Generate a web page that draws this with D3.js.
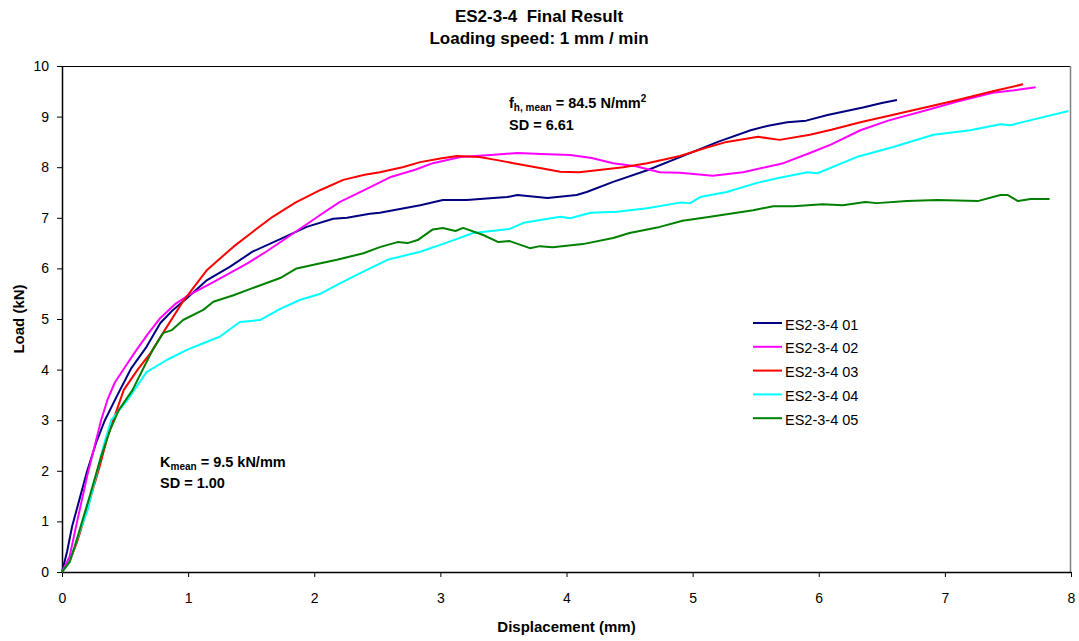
<!DOCTYPE html>
<html>
<head>
<meta charset="utf-8">
<script src="https://cdn.jsdelivr.net/npm/d3@7"></script>
<style>
  html, body { margin: 0; padding: 0; background: #fff; }
  svg { display: block; font-family: "Liberation Sans", Arial, sans-serif; }
</style>
</head>
<body>
<svg id="chart" width="1079" height="641"></svg>
<script>
// Load–displacement curves for the five ES2-3-4 specimens: [displacement (mm), load (kN)]
const s01 = [[0,0],[0.04,0.4],[0.08,0.9],[0.14,1.45],[0.2,2.0],[0.27,2.55],[0.34,3.0],[0.44,3.5],[0.55,4.03],[0.67,4.45],[0.78,4.92],[0.88,5.18],[0.99,5.41],[1.15,5.77],[1.33,6.03],[1.51,6.33],[1.73,6.58],[1.94,6.82],[2.15,6.98],[2.26,7.0],[2.44,7.08],[2.52,7.1],[2.84,7.25],[3.02,7.35],[3.21,7.35],[3.42,7.39],[3.53,7.41],[3.61,7.45],[3.85,7.39],[4.08,7.45],[4.16,7.51],[4.37,7.71],[4.64,7.94],[4.9,8.2],[5.2,8.5],[5.46,8.73],[5.6,8.82],[5.75,8.89],[5.9,8.92],[6.07,9.03],[6.35,9.18],[6.5,9.27],[6.62,9.33]];
const s02 = [[0,0],[0.06,0.3],[0.12,1.0],[0.2,1.9],[0.26,2.5],[0.31,3.0],[0.36,3.4],[0.42,3.75],[0.5,4.05],[0.58,4.35],[0.68,4.7],[0.78,5.02],[0.9,5.3],[0.99,5.45],[1.2,5.73],[1.47,6.1],[1.6,6.3],[1.78,6.6],[2.05,7.06],[2.2,7.31],[2.4,7.55],[2.6,7.8],[2.8,7.95],[2.94,8.08],[3.16,8.2],[3.4,8.24],[3.61,8.28],[3.8,8.26],[4.03,8.24],[4.2,8.18],[4.37,8.08],[4.55,8.02],[4.74,7.9],[4.9,7.89],[5.16,7.83],[5.4,7.9],[5.72,8.08],[5.95,8.3],[6.1,8.45],[6.33,8.73],[6.55,8.92],[6.86,9.13],[7.1,9.3],[7.38,9.47],[7.55,9.52],[7.72,9.58]];
const s03 = [[0,0],[0.06,0.2],[0.12,0.6],[0.17,1.0],[0.22,1.42],[0.3,2.1],[0.36,2.67],[0.42,3.1],[0.49,3.6],[0.6,4.0],[0.7,4.32],[0.82,4.8],[0.96,5.35],[1.15,5.97],[1.36,6.43],[1.5,6.7],[1.67,7.02],[1.85,7.3],[2.05,7.55],[2.23,7.75],[2.4,7.85],[2.52,7.9],[2.7,8.0],[2.84,8.1],[3.0,8.17],[3.13,8.22],[3.31,8.2],[3.45,8.14],[3.58,8.08],[3.8,7.98],[3.95,7.91],[4.1,7.9],[4.24,7.94],[4.45,8.0],[4.64,8.08],[4.9,8.22],[5.1,8.38],[5.27,8.5],[5.52,8.6],[5.69,8.54],[5.93,8.64],[6.1,8.74],[6.33,8.89],[6.6,9.04],[6.86,9.19],[7.1,9.33],[7.38,9.5],[7.62,9.64]];
const s04 = [[0,0],[0.06,0.2],[0.14,0.8],[0.2,1.2],[0.28,2.0],[0.33,2.5],[0.39,3.0],[0.52,3.4],[0.67,3.95],[0.83,4.19],[0.99,4.39],[1.1,4.5],[1.25,4.65],[1.41,4.94],[1.57,4.98],[1.73,5.2],[1.89,5.38],[2.05,5.5],[2.2,5.7],[2.36,5.9],[2.58,6.17],[2.84,6.33],[3.05,6.51],[3.26,6.7],[3.55,6.78],[3.66,6.9],[3.95,7.02],[4.03,6.99],[4.19,7.1],[4.4,7.12],[4.64,7.19],[4.9,7.3],[4.98,7.29],[5.06,7.41],[5.27,7.51],[5.51,7.69],[5.69,7.79],[5.91,7.9],[5.99,7.88],[6.3,8.2],[6.59,8.4],[6.91,8.64],[7.2,8.73],[7.44,8.85],[7.52,8.83],[7.65,8.91],[7.98,9.11]];
const s05 = [[0,0],[0.06,0.2],[0.1,0.5],[0.16,1.0],[0.22,1.5],[0.3,2.2],[0.38,2.8],[0.45,3.2],[0.56,3.6],[0.65,4.05],[0.72,4.39],[0.8,4.72],[0.87,4.78],[0.96,4.98],[1.12,5.18],[1.2,5.34],[1.36,5.47],[1.51,5.61],[1.73,5.81],[1.86,6.0],[2.05,6.1],[2.18,6.17],[2.39,6.3],[2.52,6.42],[2.66,6.52],[2.74,6.5],[2.82,6.56],[2.94,6.77],[3.02,6.8],[3.12,6.74],[3.18,6.8],[3.34,6.66],[3.46,6.52],[3.55,6.54],[3.71,6.4],[3.79,6.44],[3.89,6.42],[4.13,6.48],[4.37,6.6],[4.5,6.7],[4.74,6.82],[4.92,6.94],[5.14,7.02],[5.48,7.15],[5.64,7.23],[5.8,7.23],[6.03,7.27],[6.19,7.25],[6.37,7.31],[6.46,7.29],[6.7,7.33],[6.94,7.35],[7.26,7.33],[7.44,7.45],[7.5,7.45],[7.58,7.33],[7.68,7.37],[7.83,7.37]];

const seriesNames = ["ES2-3-4 01", "ES2-3-4 02", "ES2-3-4 03", "ES2-3-4 04", "ES2-3-4 05"];
const seriesData = [s01, s02, s03, s04, s05];
const seriesColors = ["#000080", "#ff00ff", "#ff0000", "#00ffff", "#008000"];

const xTicks = [0, 1, 2, 3, 4, 5, 6, 7, 8];
const yTicks = [0, 1, 2, 3, 4, 5, 6, 7, 8, 9, 10];

const titleLines = ["ES2-3-4  Final Result", "Loading speed: 1 mm / min"];
const xTitle = "Displacement (mm)";
const yTitle = "Load (kN)";

// Layout
const plot = { left: 62, right: 1071, top: 66, bottom: 572 };
const svg = d3.select("#chart");

const x = d3.scaleLinear().domain([0, 8]).range([plot.left, plot.right]);
const y = d3.scaleLinear().domain([0, 10]).range([plot.bottom, plot.top]);

// Plot frame: top and right edges
svg.append("line").attr("x1", plot.left).attr("x2", plot.right)
  .attr("y1", plot.top + 0.5).attr("y2", plot.top + 0.5)
  .attr("stroke", "#000").attr("stroke-width", 1);
svg.append("line").attr("x1", plot.right - 0.5).attr("x2", plot.right - 0.5)
  .attr("y1", plot.top).attr("y2", plot.bottom)
  .attr("stroke", "#808080").attr("stroke-width", 1.5);

// Axes
const xAxis = svg.append("g")
  .attr("transform", `translate(0,${plot.bottom})`)
  .call(d3.axisBottom(x).tickValues(xTicks).tickSize(5).tickPadding(16).tickSizeOuter(0));
const yAxis = svg.append("g")
  .attr("transform", `translate(${plot.left},0)`)
  .call(d3.axisLeft(y).tickValues(yTicks).tickSize(5).tickPadding(8).tickSizeOuter(0));

[xAxis, yAxis].forEach(g => {
  g.select(".domain").attr("stroke", "#000").attr("stroke-width", 1.5);
  g.selectAll(".tick line").attr("stroke", "#000").attr("stroke-width", 1);
  g.selectAll(".tick text").attr("fill", "#000")
    .style("font-family", '"Liberation Sans", Arial, sans-serif').style("font-size", "14px");
});

// Curves
const line = d3.line().x(d => x(d[0])).y(d => y(d[1]));
svg.append("g").selectAll("path")
  .data(seriesData)
  .join("path")
  .attr("d", line)
  .attr("fill", "none")
  .attr("stroke", (d, i) => seriesColors[i])
  .attr("stroke-width", 2)
  .attr("stroke-linejoin", "round");

// Title
svg.append("g").selectAll("text")
  .data(titleLines)
  .join("text")
  .attr("x", 539)
  .attr("y", (d, i) => 22 + i * 22)
  .attr("text-anchor", "middle")
  .style("font-weight", "bold")
  .style("font-size", "17px")
  .style("white-space", "pre")
  .text(d => d);

// Axis titles
svg.append("text")
  .attr("x", (plot.left + plot.right) / 2).attr("y", 632)
  .attr("text-anchor", "middle")
  .style("font-weight", "bold").style("font-size", "15px")
  .text(xTitle);
svg.append("text")
  .attr("transform", `translate(24,${(plot.top + plot.bottom) / 2}) rotate(-90)`)
  .attr("text-anchor", "middle")
  .style("font-weight", "bold").style("font-size", "15px")
  .text(yTitle);

// Legend
const legend = svg.append("g").attr("transform", "translate(753,323)");
const rows = legend.selectAll("g").data(seriesNames).join("g")
  .attr("transform", (d, i) => `translate(0,${i * 23.8})`);
rows.append("line").attr("x1", 0).attr("x2", 29).attr("y1", 0).attr("y2", 0)
  .attr("stroke", (d, i) => seriesColors[i]).attr("stroke-width", 2);
rows.append("text").attr("x", 32).attr("y", 6.5)
  .style("font-size", "14.5px").text(d => d);

// Annotations
const fh = svg.append("text").attr("x", 509).attr("y", 108)
  .style("font-weight", "bold").style("font-size", "14.5px");
fh.append("tspan").text("f");
fh.append("tspan").attr("dy", 3).style("font-size", "10px").text("h, mean");
fh.append("tspan").attr("dy", -3).text(" = 84.5 N/mm");
fh.append("tspan").attr("dy", -6).style("font-size", "10px").text("2");
svg.append("text").attr("x", 509).attr("y", 130)
  .style("font-weight", "bold").style("font-size", "14.5px").text("SD = 6.61");

const km = svg.append("text").attr("x", 160).attr("y", 467)
  .style("font-weight", "bold").style("font-size", "14.5px");
km.append("tspan").text("K");
km.append("tspan").attr("dy", 3).style("font-size", "10px").text("mean");
km.append("tspan").attr("dy", -3).text(" = 9.5 kN/mm");
svg.append("text").attr("x", 160).attr("y", 488)
  .style("font-weight", "bold").style("font-size", "14.5px").text("SD = 1.00");
</script>
</body>
</html>
